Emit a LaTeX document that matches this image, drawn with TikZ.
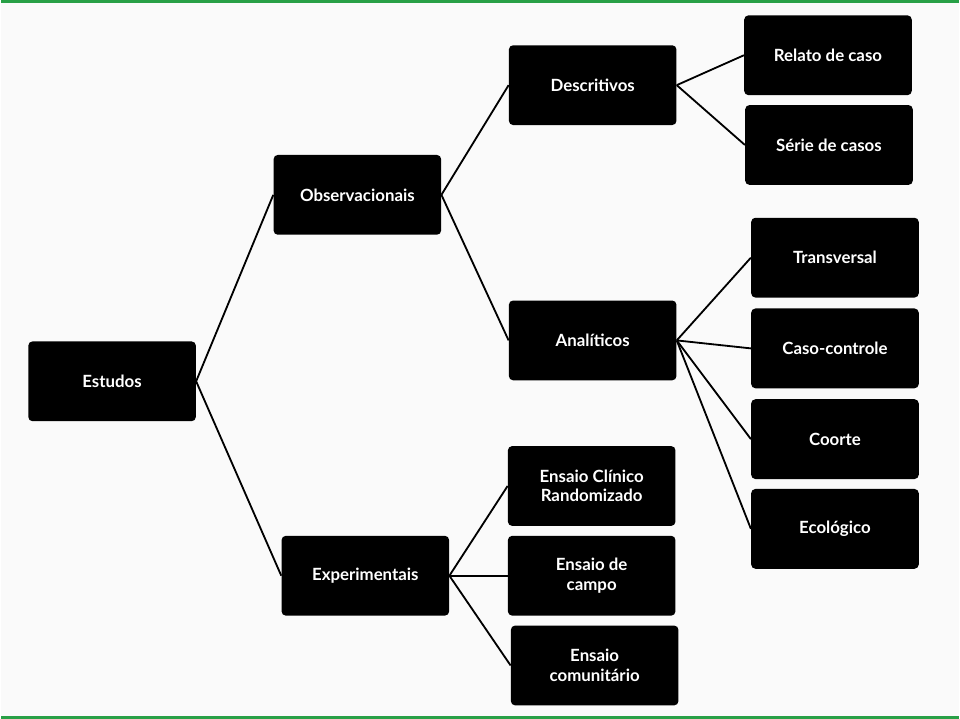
\documentclass[tikz,border=0pt]{standalone}
\usepackage{fontspec}
\setmainfont{Lato}
\usetikzlibrary{positioning}
\definecolor{framegreen}{RGB}{40,160,70}

\begin{document}
\begin{tikzpicture}[
    x=0.025cm, y=-0.025cm,
    box/.style = {fill=black, text=white, rounded corners=3pt, minimum width=4.2cm, minimum height=2cm, align=center, font=\fontsize{12}{14}\selectfont\bfseries, inner sep=1pt},
    link/.style = {line width=1.3pt}
]

% Background and frame
\fill[white!96!gray] (0,0) rectangle (960,720);
\draw[framegreen, line width=2pt] (0,1) -- (960,1);
\draw[framegreen, line width=2pt] (0,719) -- (960,719);

% Level 1 and 2
\node[box] (estudos) at (111,382) {Estudos};
\node[box] (obs) at (357,195) {Observacionais};
\node[box] (exp) at (365,577) {Experimentais};

% Level 3
\node[box] (desc) at (593,85) {Descritivos};
\node[box] (anal) at (593,341) {Analíticos};
\node[box] (clin) at (592,487) {Ensaio Clínico\\Randomizado};
\node[box] (campo) at (592,577) {Ensaio de\\campo};
\node[box] (comun) at (595,667) {Ensaio\\comunitário};

% Level 4
\node[box] (relato) at (829,55) {Relato de caso};
\node[box] (serie) at (830,145) {Série de casos};
\node[box] (trans) at (836,258) {Transversal};
\node[box] (caso) at (836,349) {Caso-controle};
\node[box] (coorte) at (836,440) {Coorte};
\node[box] (eco) at (836,530) {Ecológico};

% Connectors
\draw[link] (estudos.east) -- (obs.west);
\draw[link] (estudos.east) -- (exp.west);
\draw[link] (obs.east) -- (desc.west);
\draw[link] (obs.east) -- (anal.west);
\foreach \n in {clin, campo, comun}
    \draw[link] (exp.east) -- (\n.west);
\foreach \n in {relato, serie}
    \draw[link] (desc.east) -- (\n.west);
\foreach \n in {trans, caso, coorte, eco}
    \draw[link] (anal.east) -- (\n.west);

\end{tikzpicture}
\end{document}
